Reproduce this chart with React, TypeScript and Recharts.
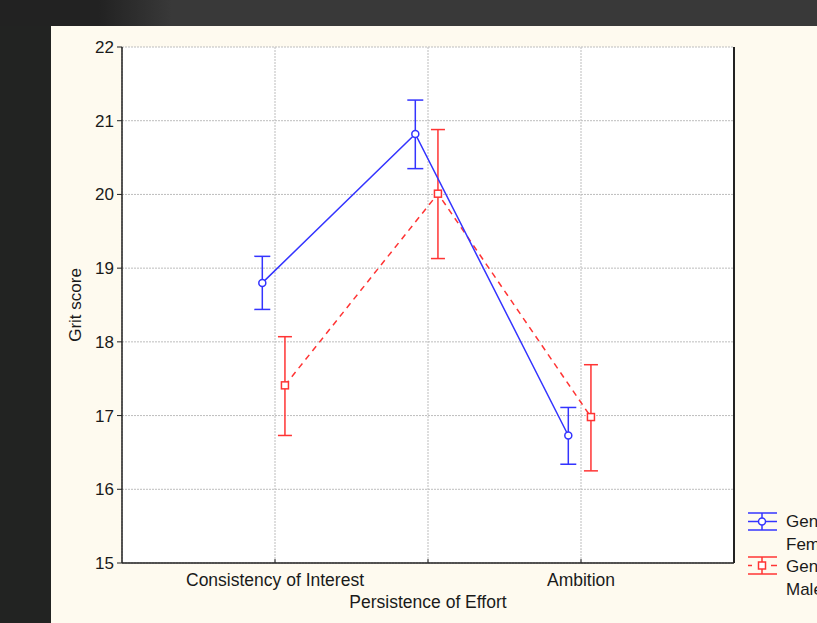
import React from 'react';
import {
  CartesianGrid,
  ComposedChart,
  ErrorBar,
  Legend,
  ReferenceLine,
  Scatter,
  XAxis,
  YAxis,
} from 'recharts';

const categories = ['Consistency of Interest', 'Persistence of Effort', 'Ambition'];
const yTicks = [15, 16, 17, 18, 19, 20, 21, 22];

const femaleMean = [18.8, 20.82, 16.73];
const femaleLow = [18.44, 20.35, 16.34];
const femaleHigh = [19.16, 21.28, 17.11];

const maleMean = [17.41, 20.01, 16.98];
const maleLow = [16.73, 19.13, 16.25];
const maleHigh = [18.07, 20.88, 17.69];

const BLUE = '#3434ff';
const RED = '#ff3434';
const FONT = '"Liberation Sans", Arial, sans-serif';

// small horizontal shift of each group around its category
const build = (mean: number[], low: number[], high: number[], shift: number) =>
  mean.map((m, i) => ({
    x: i + 1 + shift,
    y: m,
    err: [m - low[i], high[i] - m],
  }));

const femaleData = build(femaleMean, femaleLow, femaleHigh, -0.083);
const maleData = build(maleMean, maleLow, maleHigh, 0.065);

const CategoryTick = (props: any) => {
  const { x, y, payload } = props;
  const i = Math.round(payload.value) - 1;
  return (
    <g>
      <line x1={x} x2={x} y1={y} y2={y - 4} stroke="#222" />
      <text
        x={x}
        y={y + 23 + (i === 1 ? 22 : 0)}
        textAnchor="middle"
        fontSize={17.5}
        fill="#1a1a1a"
        fontFamily={FONT}
      >
        {categories[i]}
      </text>
    </g>
  );
};

const LegendBox = () => (
  <svg width={77} height={110} style={{ display: 'block' }}>
    <g stroke={BLUE} strokeWidth={1.5} fill="none">
      <line x1={8} x2={37} y1={13} y2={13} />
      <line x1={8} x2={37} y1={30} y2={30} />
      <line x1={8} x2={37} y1={21.5} y2={21.5} />
      <line x1={22} x2={22} y1={13} y2={30} />
      <circle cx={22} cy={21.5} r={3.5} fill="#fff" />
    </g>
    <g stroke={RED} strokeWidth={1.5} fill="none">
      <line x1={8} x2={37} y1={57} y2={57} />
      <line x1={8} x2={37} y1={74} y2={74} />
      <line x1={8} x2={12} y1={65.5} y2={65.5} />
      <line x1={31} x2={37} y1={65.5} y2={65.5} />
      <line x1={22} x2={22} y1={57} y2={74} />
      <rect x={18.5} y={62} width={7} height={7} fill="#fff" />
    </g>
    <g fontSize={17} fill="#1a1a1a" fontFamily={FONT}>
      <text x={46} y={27}>Gender</text>
      <text x={46} y={50}>Female</text>
      <text x={46} y={72}>Gender</text>
      <text x={46} y={95}>Male</text>
    </g>
  </svg>
);

const circleShape = (p: any) => (
  <circle cx={p.cx} cy={p.cy} r={3.5} fill="#fff" stroke={BLUE} strokeWidth={1.5} />
);
const squareShape = (p: any) => (
  <rect x={p.cx - 3.5} y={p.cy - 3.5} width={7} height={7} fill="#fff" stroke={RED} strokeWidth={1.5} />
);

const App = () => (
  <div
    style={{
      position: 'absolute',
      left: 0,
      top: 0,
      width: 817,
      height: 623,
      overflow: 'hidden',
      background: '#222322',
    }}
  >
    <div
      style={{
        position: 'absolute',
        left: 0,
        top: 0,
        width: 817,
        height: 26,
        background: 'linear-gradient(to right, #222222 0px, #222222 99px, #393939 172px, #393939 100%)',
      }}
    />
    <div
      style={{
        position: 'absolute',
        left: 51,
        top: 26,
        width: 766,
        height: 597,
        background: '#fefaef',
      }}
    />
    <div style={{ position: 'absolute', left: 0, top: 0 }}>
      <ComposedChart
        width={817}
        height={623}
        margin={{ top: 47, right: 83, left: 0, bottom: 10 }}
      >
        <CartesianGrid fill="#ffffff" stroke="#bdbdbd" strokeDasharray="2 1" />
        <XAxis
          dataKey="x"
          type="number"
          domain={[0, 4]}
          ticks={[1, 2, 3]}
          height={50}
          tickSize={0}
          tickMargin={0}
          tickLine={false}
          axisLine={{ stroke: '#222', strokeWidth: 1.5 }}
          tick={<CategoryTick />}
          interval={0}
        />
        <XAxis
          xAxisId="top"
          orientation="top"
          type="number"
          domain={[0, 4]}
          ticks={[1, 2, 3]}
          height={0}
          mirror
          tickSize={4}
          tick={false}
          tickLine={{ stroke: '#222' }}
          axisLine={{ stroke: '#222', strokeWidth: 2 }}
        />
        <YAxis
          dataKey="y"
          type="number"
          domain={[15, 22]}
          ticks={yTicks}
          width={122}
          tickSize={5}
          tickMargin={3}
          tickLine={{ stroke: '#222' }}
          axisLine={{ stroke: '#222', strokeWidth: 1.5 }}
          tick={{ fontSize: 17, fill: '#1a1a1a', fontFamily: FONT }}
          label={(lp: any) => {
            const vb = lp.viewBox;
            const cx = 75;
            const cy = vb.y + vb.height / 2;
            return (
              <text
                x={cx}
                y={cy}
                transform={`rotate(-90 ${cx} ${cy})`}
                textAnchor="middle"
                dominantBaseline="central"
                fontSize={17}
                fill="#1a1a1a"
                fontFamily={FONT}
              >
                Grit score
              </text>
            );
          }}
        />
        <ReferenceLine x={4} stroke="#222" strokeWidth={2} />
        <Scatter
          name="Gender Male"
          data={maleData}
          fill={RED}
          line={{ stroke: RED, strokeWidth: 1.5, strokeDasharray: '6 5' }}
          lineType="joint"
          shape={squareShape}
          isAnimationActive={false}
        >
          <ErrorBar dataKey="err" direction="y" width={7} stroke={RED} strokeWidth={1.5} isAnimationActive={false} />
        </Scatter>
        <Scatter
          name="Gender Female"
          data={femaleData}
          fill={BLUE}
          line={{ stroke: BLUE, strokeWidth: 1.5 }}
          lineType="joint"
          shape={circleShape}
          isAnimationActive={false}
        >
          <ErrorBar dataKey="err" direction="y" width={8} stroke={BLUE} strokeWidth={1.5} isAnimationActive={false} />
        </Scatter>
        <Legend
          layout="horizontal"
          verticalAlign="middle"
          align="center"
          content={() => <LegendBox />}
          wrapperStyle={{ position: 'absolute', left: 740, top: 500, width: 77, height: 110 }}
        />
      </ComposedChart>
    </div>
  </div>
);

export default App;
